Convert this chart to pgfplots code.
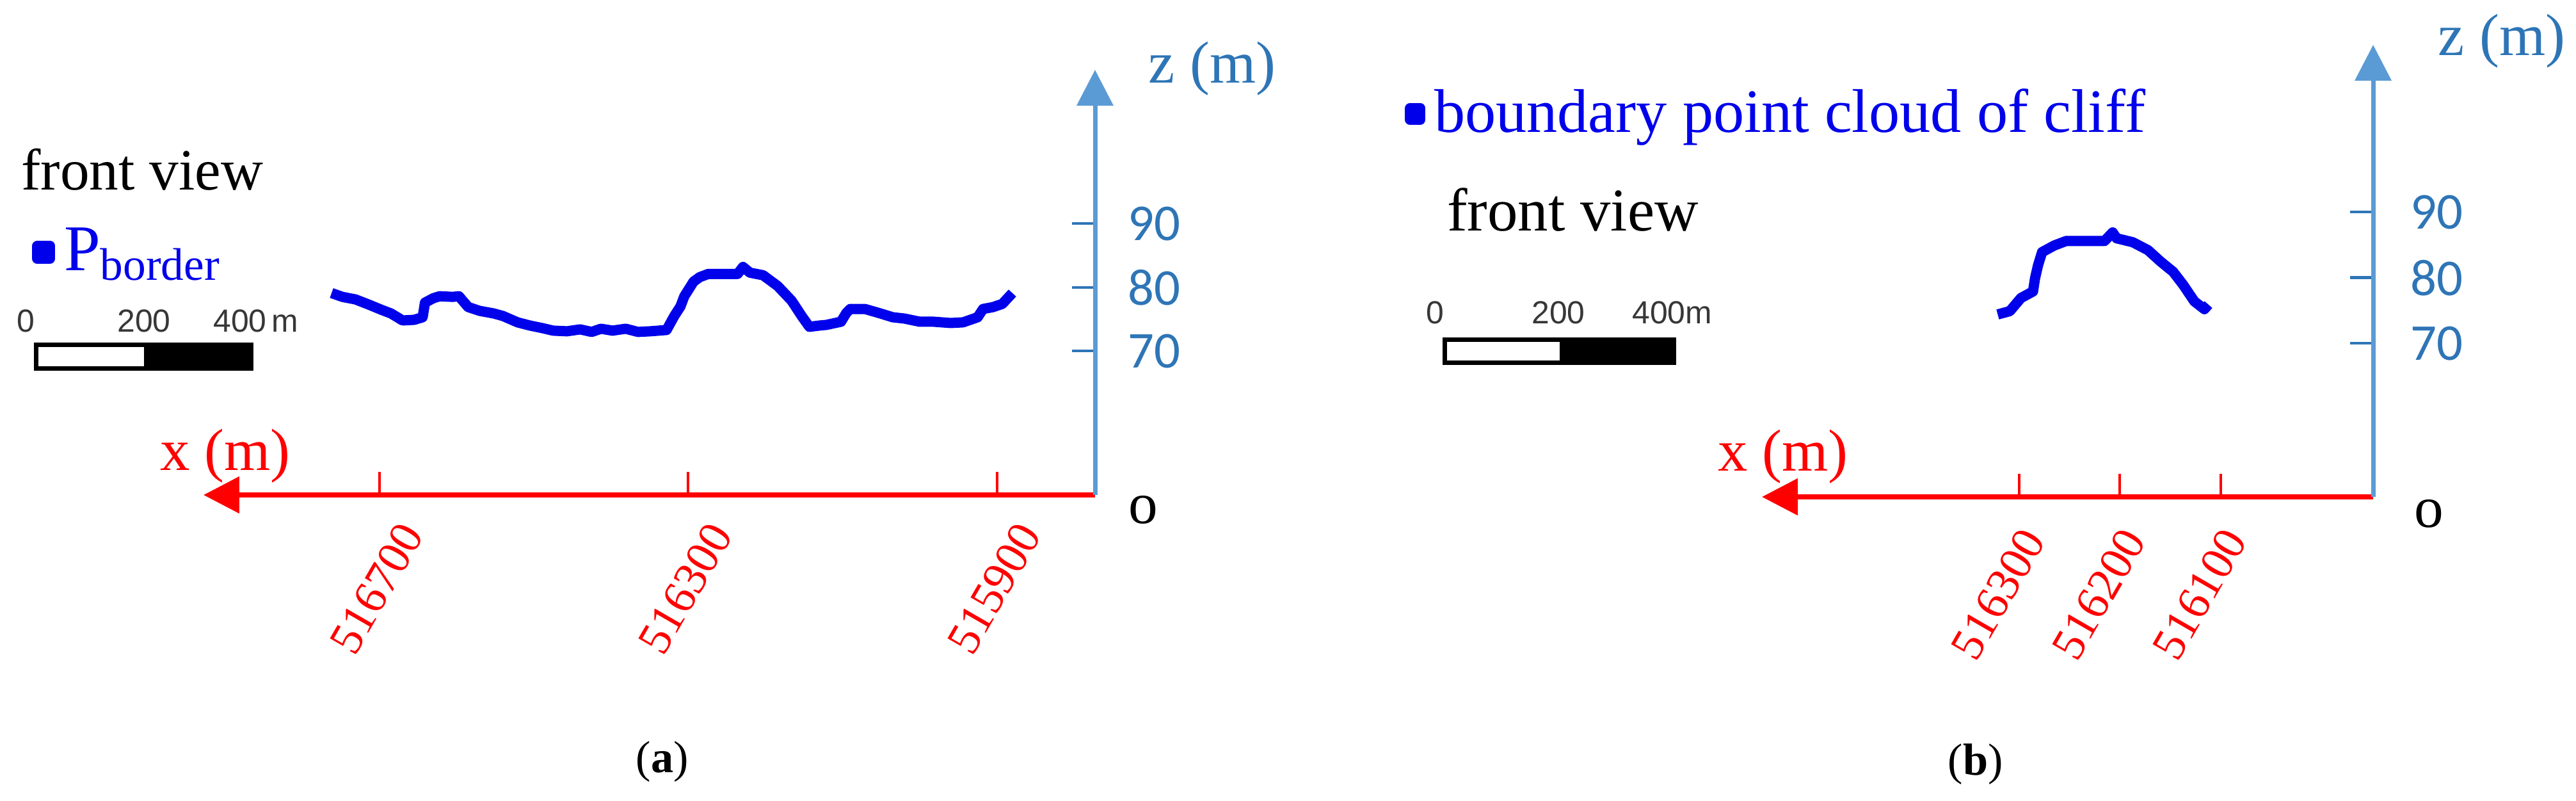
\documentclass[border=0pt]{standalone}
\usepackage{fontspec}
\setmainfont{Liberation Serif}
\newfontfamily\sansf{Liberation Sans}
\newfontfamily\calib{Carlito}
\usepackage{pgfplots}
\usepackage{pgfplotstable}
\pgfplotsset{compat=1.18}
\usetikzlibrary{arrows.meta}
\definecolor{zaxis}{RGB}{91,155,213}
\definecolor{zlab}{RGB}{46,117,182}
\definecolor{ptblue}{RGB}{0,0,235}
\definecolor{sbgray}{RGB}{55,55,55}

\pgfplotstableread{
x z
516762 79.1
516748 78.5
516731 78.1
516714 77.3
516698 76.5
516685 75.9
516670 74.8
516655 74.9
516644 75.3
516641 77.6
516630 78.3
516622 78.6
516605 78.5
516597 78.6
516585 76.9
516570 76.3
516552 75.9
516540 75.5
516521 74.5
516505 74.0
516489 73.6
516475 73.2
516457 73.1
516440 73.4
516425 73.0
516413 73.5
516398 73.2
516381 73.5
516365 73.0
516349 73.1
516328 73.3
516318 75.5
516310 77.0
516305 78.6
516293 80.9
516285 81.6
516274 82.1
516250 82.1
516236 82.1
516229 83.2
516220 82.3
516203 81.9
516184 80.2
516166 77.9
516153 75.5
516143 73.8
516130 74.0
516121 74.1
516102 74.6
516095 76.0
516090 76.6
516071 76.6
516051 75.9
516035 75.3
516020 75.1
516000 74.6
515982 74.6
515960 74.4
515944 74.5
515925 75.3
515918 76.6
515905 76.9
515893 77.4
515880 79.1
}\dataA

\pgfplotstableread{
x z
516321 74.4
516309 74.9
516298 76.9
516286 77.9
516284 79.9
516281 81.9
516277 83.9
516265 84.9
516253 85.6
516232 85.6
516215 85.6
516207 86.9
516203 86.0
516187 85.4
516172 84.2
516159 82.4
516147 80.9
516137 78.9
516126 76.4
516116 75.2
516112 75.9
}\dataB

\pgfplotsset{
  cliffaxis/.style={
    scale only axis, clip=false, x dir=reverse,
    axis x line=bottom, axis y line=right,
    x axis line style={red, line width=0.4mm, -{Triangle[length=2.8mm,width=2.8mm]}},
    y axis line style={zaxis, line width=0.35mm, -{Triangle[length=2.8mm,width=2.8mm]}},
    xtick align=inside, ytick align=inside,
    major tick length=1.8mm,
    xtick style={red, line width=0.2mm},
    ytick style={zlab, line width=0.22mm},
    minor tick num=0,
    scaled x ticks=false, scaled y ticks=false,
    ytick={70,80,90}, yticklabels={70,80,90},
    legend cell align=left,
  }
}

\begin{document}
\begin{tikzpicture}
\useasboundingbox (0,0) rectangle (201.25mm,62.5mm);

% ---------- panel (a) ----------
\begin{axis}[cliffaxis,
  at={(50.725mm,40.45mm)}, anchor=center,
  width=69.65mm, height=33.2mm,
  xmin=515772.9, xmax=516927.9, ymin=47.41, ymax=114.14,
  xtick={515900,516300,516700}, xticklabels={515900,516300,516700},
  xticklabel style={red, font=\fontsize{10.4}{12}\selectfont, inner sep=0pt,
    anchor=east, xshift=2.55mm, yshift=-2.5mm, rotate=60},
  yticklabel style={zlab, font=\calib\fontsize{11.5}{13}\selectfont, anchor=west,
    inner sep=0pt, xshift=2.5mm},
  legend style={draw=none, fill=none, inner sep=0pt, outer sep=0pt,
    at={(axis cs:517150,85.5)}, anchor=west,
    font=\fontsize{14.5}{16}\selectfont, text=ptblue,
    nodes={inner xsep=0.7mm, inner ysep=0pt}},
  legend image code/.code={\fill[ptblue] (0mm,-0.5mm) rectangle (1mm,0.5mm);},
]
\addplot[ptblue, line width=0.8mm, line join=round] table[x=x,y=z] {\dataA};
\addlegendentry{P\textsubscript{border}}
\end{axis}

% ---------- panel (b) ----------
\begin{axis}[cliffaxis,
  at={(161.525mm,41.35mm)}, anchor=center,
  width=47.75mm, height=35.3mm,
  xmin=515948.6, xmax=516554.9, ymin=46.60, ymax=115.48,
  xtick={516100,516200,516300}, xticklabels={516100,516200,516300},
  xticklabel style={red, font=\fontsize{10.4}{12}\selectfont, inner sep=0pt,
    anchor=east, xshift=1.15mm, yshift=-2.8mm, rotate=60},
  yticklabel style={zlab, font=\calib\fontsize{11.5}{13}\selectfont, anchor=west,
    inner sep=0pt, xshift=2.85mm},
  legend style={draw=none, fill=none, inner sep=0pt, outer sep=0pt,
    at={(axis cs:516909,104.95)}, anchor=west,
    font=\fontsize{13.7}{16}\selectfont, text=ptblue,
    nodes={inner xsep=0.7mm, inner ysep=0pt}},
  legend image code/.code={\fill[ptblue] (0mm,-0.45mm) rectangle (0.8mm,0.45mm);},
]
\addplot[ptblue, line width=0.8mm, line join=round] table[x=x,y=z] {\dataB};
\addlegendentry{boundary point cloud of cliff}
\end{axis}

% ---------- annotations ----------
\begin{scope}[x=0.05mm,y=0.05mm]
  % panel (a)
  \node[anchor=base west, inner sep=0pt, font=\fontsize{13}{15}\selectfont] at (32,954) {front view};
  \begin{scope}[font=\sansf\fontsize{7.1}{8}\selectfont, text=sbgray, inner sep=0pt]
    \node[anchor=base] at (40,732) {0};
    \node[anchor=base] at (225,732) {200};
    \node[anchor=base west] at (332,732) {400\,m};
  \end{scope}
  \fill[black] (225,675) rectangle (393,712);
  \draw[line width=0.35mm] (57,675) rectangle (393,712);
  \node[red, font=\fontsize{13.2}{15}\selectfont, inner sep=0pt] at (352,538) {x (m)};
  \node[zlab, font=\fontsize{13.2}{15}\selectfont, inner sep=0pt] at (1894,1143) {z (m)};
  \node[font=\fontsize{13}{15}\selectfont, inner sep=0pt] at (1786,454) {o};
  \node[font=\fontsize{10}{12}\selectfont, inner sep=0pt] at (1035,60) {(\textbf{a})};
  % panel (b)
  \node[anchor=base west, inner sep=0pt, font=\fontsize{13.5}{15}\selectfont] at (2260,890) {front view};
  \begin{scope}[font=\sansf\fontsize{7.1}{8}\selectfont, text=sbgray, inner sep=0pt]
    \node[anchor=base] at (2242,745) {0};
    \node[anchor=base] at (2435,745) {200};
    \node[anchor=base west] at (2549,745) {400m};
  \end{scope}
  \fill[black] (2437,684) rectangle (2616,720);
  \draw[line width=0.35mm] (2258,684) rectangle (2616,720);
  \node[red, font=\fontsize{13.2}{15}\selectfont, inner sep=0pt] at (2786,537) {x (m)};
  \node[zlab, font=\fontsize{13.2}{15}\selectfont, inner sep=0pt] at (3909,1186) {z (m)};
  \node[font=\fontsize{13}{15}\selectfont, inner sep=0pt] at (3795,448) {o};
  \node[font=\fontsize{10}{12}\selectfont, inner sep=0pt] at (3087,56) {(\textbf{b})};
\end{scope}
\end{tikzpicture}
\end{document}
